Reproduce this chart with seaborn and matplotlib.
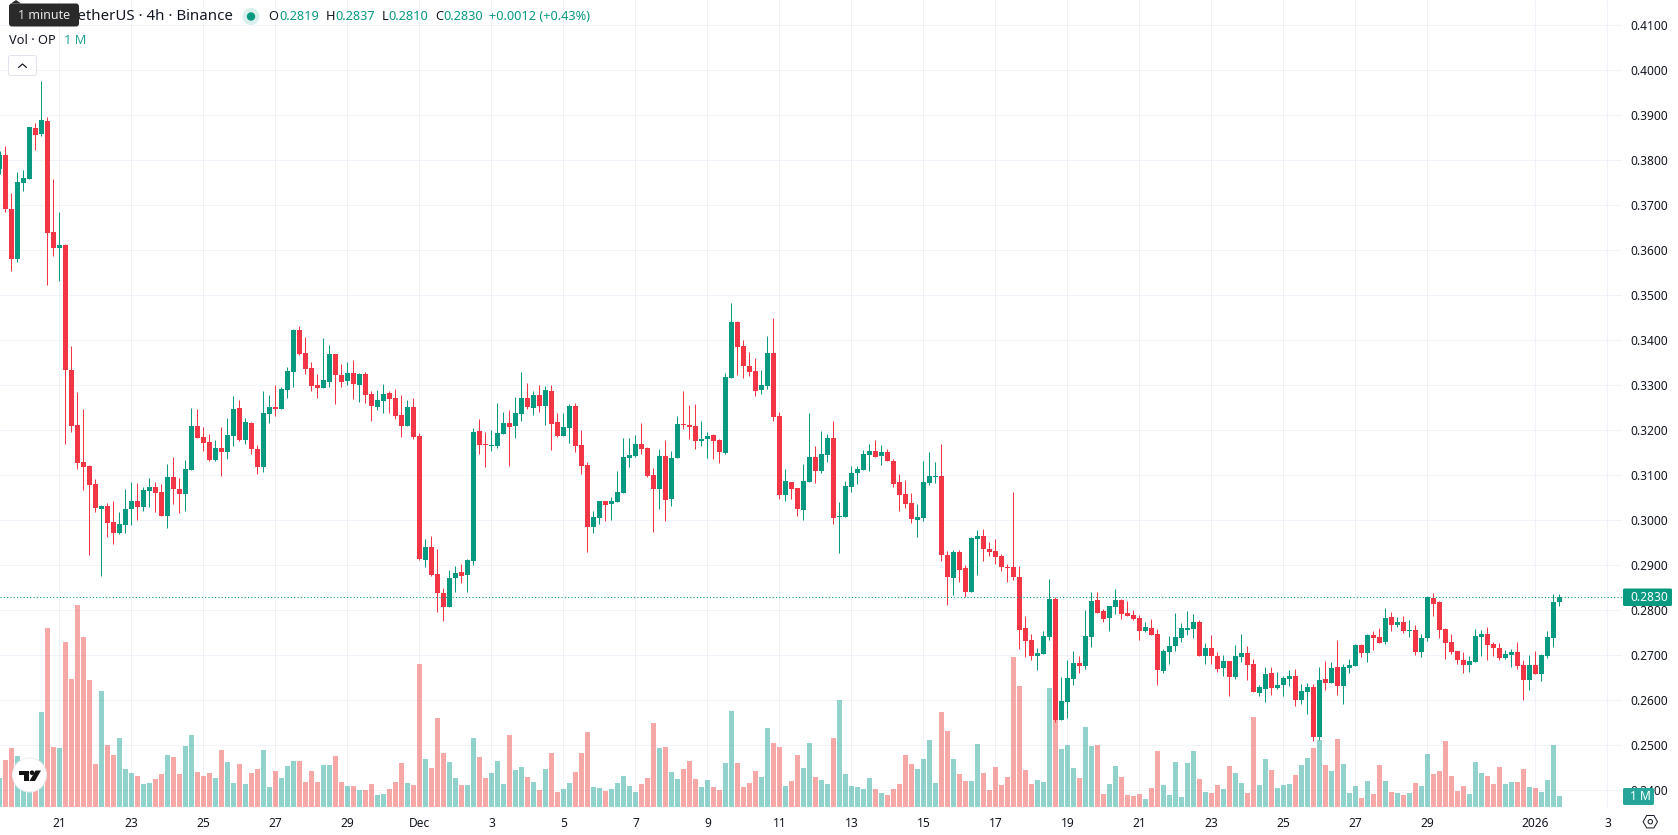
import numpy as np
import pandas as pd
import seaborn as sns
import matplotlib
matplotlib.use("Agg")
import matplotlib.pyplot as plt
from matplotlib.patches import Circle, FancyBboxPatch, Polygon

# OP/USDT 4h candles, one candle per entry, starting 19 Nov
opens = [
    .3781, .3812, .3692, .3581, .3750, .3759, .3872, .3859, .3887, .3641,
    .3605, .3612, .3334, .3212, .3130, .3121, .3081, .3025, .3032, .2996,
    .2972, .2990, .3025, .3043, .3030, .3065, .3074, .3063, .3010, .3096,
    .3070, .3059, .3112, .3210, .3185, .3174, .3134, .3161, .3152, .3187,
    .3250, .3179, .3216, .3159, .3119, .3236, .3252, .3247, .3290, .3330,
    .3423, .3372, .3339, .3301, .3294, .3307, .3370, .3323, .3310, .3327,
    .3301, .3325, .3281, .3252, .3265, .3283, .3272, .3234, .3210, .3252,
    .3187, .2912, .2941, .2881, .2839, .2807, .2872, .2885, .2879, .2910,
    .3199, .3170, .3165, .3165, .3192, .3216, .3210, .3236, .3272, .3250,
    .3279, .3254, .3287, .3219, .3187, .3205, .3254, .3167, .3123, .2985,
    .3005, .3043, .3036, .3041, .3061, .3139, .3143, .3170, .3161, .3101,
    .3070, .3143, .3047, .3139, .3214, .3212, .3210, .3176, .3181, .3190,
    .3179, .3150, .3316, .3441, .3387, .3343, .3332, .3290, .3299, .3372,
    .3232, .3056, .3085, .3072, .3023, .3085, .3141, .3110, .3145, .3183,
    .3007, .3007, .3074, .3105, .3112, .3145, .3154, .3143, .3152, .3132,
    .3085, .3059, .3039, .3001, .3005, .3083, .3096, .3099, .2923, .2872,
    .2930, .2894, .2841, .2959, .2965, .2936, .2932, .2921, .2896, .2896,
    .2874, .2761, .2734, .2699, .2703, .2741, .2825, .2556, .2596, .2647,
    .2683, .2677, .2741, .2823, .2799, .2783, .2808, .2823, .2794, .2790,
    .2783, .2754, .2761, .2747, .2665, .2707, .2721, .2739, .2757, .2759,
    .2774, .2699, .2717, .2699, .2672, .2687, .2652, .2696, .2705, .2681,
    .2616, .2625, .2661, .2627, .2634, .2647, .2654, .2601, .2619, .2630,
    .2519, .2647, .2639, .2674, .2632, .2672, .2676, .2723, .2705, .2745,
    .2741, .2730, .2785, .2767, .2774, .2754, .2756, .2707, .2739, .2827,
    .2819, .2759, .2730, .2710, .2690, .2679, .2685, .2741, .2747, .2725,
    .2716, .2694, .2701, .2707, .2679, .2645, .2679, .2659, .2699, .2739, .2819,
]
highs = [
    .3820, .3832, .3727, .3774, .3779, .3875, .3883, .3976, .3896, .3759,
    .3685, .3614, .3387, .3285, .3247, .3122, .3092, .3034, .3039, .3043,
    .3019, .3070, .3085, .3083, .3074, .3094, .3085, .3081, .3125, .3141,
    .3094, .3134, .3250, .3247, .3207, .3192, .3179, .3207, .3227, .3276,
    .3267, .3227, .3219, .3167, .3287, .3279, .3301, .3296, .3341, .3425,
    .3432, .3407, .3352, .3325, .3405, .3390, .3370, .3347, .3352, .3356,
    .3327, .3330, .3287, .3290, .3303, .3287, .3292, .3279, .3267, .3272,
    .3194, .2959, .2965, .2936, .2850, .2890, .2899, .2903, .2914, .3205,
    .3225, .3196, .3201, .3261, .3241, .3245, .3274, .3330, .3305, .3287,
    .3301, .3299, .3301, .3239, .3239, .3259, .3261, .3201, .3130, .3021,
    .3043, .3043, .3052, .3110, .3183, .3183, .3190, .3216, .3163, .3116,
    .3159, .3179, .3154, .3232, .3287, .3256, .3258, .3221, .3196, .3192,
    .3181, .3327, .3483, .3443, .3401, .3374, .3361, .3334, .3410, .3450,
    .3241, .3114, .3085, .3072, .3125, .3239, .3165, .3199, .3192, .3221,
    .3041, .3087, .3121, .3121, .3156, .3170, .3179, .3167, .3159, .3136,
    .3103, .3090, .3061, .3036, .3132, .3152, .3130, .3170, .2932, .2934,
    .2934, .2901, .2963, .2979, .2981, .2952, .2959, .2925, .2903, .3063,
    .2899, .2787, .2747, .2716, .2754, .2870, .2830, .2652, .2690, .2710,
    .2699, .2801, .2841, .2841, .2803, .2810, .2847, .2825, .2821, .2801,
    .2790, .2774, .2781, .2759, .2714, .2743, .2794, .2772, .2799, .2792,
    .2779, .2728, .2745, .2708, .2701, .2687, .2723, .2747, .2721, .2692,
    .2634, .2674, .2674, .2663, .2654, .2667, .2670, .2636, .2639, .2636,
    .2674, .2687, .2685, .2734, .2681, .2692, .2725, .2725, .2747, .2754,
    .2761, .2805, .2796, .2785, .2787, .2779, .2767, .2747, .2832, .2839,
    .2821, .2761, .2747, .2710, .2707, .2699, .2759, .2756, .2763, .2730,
    .2727, .2712, .2714, .2730, .2690, .2701, .2710, .2703, .2754, .2836, .2837,
]
lows = [
    .3770, .3686, .3554, .3574, .3732, .3758, .3823, .3854, .3523, .3587,
    .3532, .3170, .3196, .3114, .3067, .2923, .3019, .2876, .2963, .2947,
    .2970, .2972, .2990, .3001, .3021, .3030, .3019, .3010, .2983, .3036,
    .3016, .3021, .3112, .3183, .3154, .3132, .3132, .3099, .3136, .3165,
    .3176, .3170, .3147, .3103, .3107, .3216, .3232, .3247, .3272, .3296,
    .3367, .3325, .3287, .3272, .3294, .3296, .3259, .3296, .3301, .3270,
    .3263, .3261, .3221, .3245, .3239, .3239, .3225, .3185, .3210, .3181,
    .2912, .2896, .2876, .2796, .2776, .2807, .2841, .2861, .2841, .2901,
    .3147, .3119, .3154, .3161, .3192, .3121, .3183, .3221, .3247, .3234,
    .3241, .3212, .3156, .3185, .3187, .3172, .3152, .3103, .2930, .2972,
    .2992, .2999, .3001, .3041, .3061, .3119, .3141, .3147, .3096, .2974,
    .3025, .2999, .3032, .3139, .3203, .3181, .3159, .3165, .3139, .3136,
    .3127, .3147, .3316, .3323, .3316, .3321, .3276, .3281, .3292, .3221,
    .3047, .3043, .3047, .3010, .3001, .3085, .3083, .3105, .3130, .2992,
    .2927, .3007, .3063, .3081, .3112, .3110, .3141, .3123, .3132, .3074,
    .3021, .3027, .2994, .2963, .2999, .3079, .3083, .2910, .2812, .2834,
    .2863, .2830, .2841, .2879, .2910, .2921, .2903, .2887, .2863, .2867,
    .2714, .2696, .2690, .2667, .2703, .2734, .2552, .2556, .2561, .2634,
    .2661, .2670, .2719, .2794, .2774, .2754, .2792, .2781, .2787, .2779,
    .2734, .2752, .2745, .2634, .2661, .2681, .2710, .2730, .2745, .2739,
    .2699, .2681, .2681, .2663, .2654, .2610, .2647, .2685, .2645, .2619,
    .2610, .2596, .2612, .2625, .2610, .2632, .2587, .2592, .2570, .2510,
    .2512, .2623, .2639, .2612, .2592, .2661, .2676, .2696, .2685, .2712,
    .2727, .2725, .2754, .2763, .2750, .2741, .2701, .2696, .2732, .2787,
    .2739, .2692, .2703, .2681, .2661, .2663, .2685, .2699, .2690, .2699,
    .2690, .2692, .2674, .2670, .2601, .2623, .2659, .2643, .2694, .2719, .2810,
]
closes = [
    .3812, .3692, .3581, .3752, .3761, .3874, .3856, .3890, .3639, .3605,
    .3612, .3334, .3210, .3127, .3119, .3079, .3027, .3032, .2994, .2972,
    .2992, .3025, .3043, .3030, .3067, .3074, .3061, .3010, .3096, .3070,
    .3059, .3114, .3210, .3183, .3172, .3134, .3161, .3152, .3190, .3247,
    .3179, .3219, .3159, .3119, .3239, .3252, .3247, .3292, .3332, .3423,
    .3370, .3336, .3299, .3294, .3312, .3370, .3323, .3307, .3327, .3303,
    .3325, .3279, .3254, .3267, .3281, .3270, .3232, .3210, .3252, .3185,
    .2914, .2941, .2879, .2839, .2807, .2872, .2883, .2876, .2912, .3196,
    .3167, .3167, .3167, .3194, .3216, .3207, .3239, .3272, .3252, .3279,
    .3254, .3290, .3214, .3187, .3207, .3254, .3165, .3121, .2985, .3007,
    .3043, .3034, .3043, .3063, .3141, .3145, .3170, .3159, .3099, .3070,
    .3143, .3045, .3139, .3214, .3212, .3207, .3176, .3181, .3187, .3176,
    .3152, .3319, .3441, .3385, .3343, .3330, .3287, .3301, .3372, .3230,
    .3056, .3087, .3070, .3025, .3087, .3141, .3110, .3147, .3183, .3005,
    .3010, .3076, .3105, .3114, .3147, .3154, .3141, .3152, .3132, .3081,
    .3056, .3036, .3003, .3007, .3085, .3099, .3099, .2923, .2874, .2930,
    .2890, .2841, .2961, .2965, .2936, .2930, .2919, .2896, .2894, .2874,
    .2756, .2732, .2699, .2705, .2743, .2825, .2556, .2599, .2650, .2683,
    .2677, .2743, .2821, .2794, .2781, .2810, .2823, .2792, .2787, .2781,
    .2754, .2763, .2745, .2667, .2710, .2721, .2741, .2761, .2761, .2774,
    .2699, .2717, .2699, .2670, .2687, .2652, .2699, .2705, .2679, .2619,
    .2630, .2659, .2627, .2634, .2650, .2654, .2601, .2621, .2630, .2519,
    .2645, .2639, .2672, .2632, .2674, .2679, .2723, .2705, .2745, .2739,
    .2727, .2783, .2767, .2774, .2754, .2756, .2707, .2739, .2830, .2814,
    .2756, .2727, .2707, .2690, .2679, .2687, .2743, .2747, .2723, .2716,
    .2694, .2703, .2707, .2676, .2645, .2679, .2659, .2701, .2741, .2819, .2830,
]
# Traded volume per candle, in hundreds of thousands of OP
volumes = [
    29, 47, 59, 51, 32, 30, 22, 95, 179, 60,
    59, 165, 128, 202, 170, 127, 43, 116, 62, 52,
    69, 38, 34, 31, 23, 24, 28, 33, 52, 50,
    33, 61, 72, 35, 31, 34, 29, 57, 45, 24,
    43, 23, 34, 38, 57, 20, 36, 29, 41, 46,
    46, 25, 36, 25, 42, 42, 51, 25, 21, 21,
    17, 17, 23, 12, 13, 18, 25, 44, 24, 22,
    143, 48, 39, 89, 54, 45, 29, 22, 22, 69,
    50, 29, 34, 46, 23, 72, 37, 40, 30, 25,
    17, 38, 54, 15, 18, 24, 35, 54, 75, 20,
    19, 16, 18, 24, 31, 21, 15, 23, 29, 84,
    59, 60, 35, 28, 38, 46, 28, 20, 27, 20,
    17, 44, 96, 44, 20, 24, 36, 30, 79, 64,
    60, 21, 26, 52, 39, 64, 30, 27, 23, 69,
    107, 33, 21, 20, 18, 29, 18, 14, 12, 18,
    23, 52, 43, 38, 48, 67, 24, 95, 76, 48,
    33, 26, 26, 63, 34, 17, 40, 22, 30, 150,
    121, 37, 23, 27, 25, 119, 90, 58, 62, 39,
    29, 80, 61, 62, 13, 23, 41, 30, 12, 11,
    13, 8, 19, 56, 22, 12, 45, 10, 44, 56,
    28, 15, 14, 22, 18, 41, 34, 24, 14, 90,
    22, 48, 37, 19, 22, 23, 32, 42, 49, 59,
    67, 42, 36, 68, 43, 14, 21, 9, 26, 13,
    42, 26, 15, 14, 12, 14, 24, 21, 53, 33,
    36, 66, 31, 16, 21, 13, 45, 34, 31, 23,
    40, 23, 25, 25, 38, 20, 19, 15, 27, 62, 11,
]

day_tick_bars = [10, 22, 34, 46, 58, 70, 82, 94, 106, 118, 130, 142, 154,
                 166, 178, 190, 202, 214, 226, 238, 256, 268]
day_tick_labels = ["21", "23", "25", "27", "29", "Dec", "3", "5", "7", "9", "11",
                   "13", "15", "17", "19", "21", "23", "25", "27", "29", "2026", "3"]
price_ticks = [0.24, 0.25, 0.26, 0.27, 0.28, 0.29, 0.30, 0.31, 0.32, 0.33,
               0.34, 0.35, 0.36, 0.37, 0.38, 0.39, 0.40, 0.41]
last_price = 0.2830

UP = "#089981"
DOWN = "#F23645"
VOL_UP = "#26A69A"
VOL_DOWN = "#EF5350"
GRID = "#F0F3FA"
INK = "#131722"
FONT = "Noto Sans"

W, H = 1678, 835
PLOT_R, PLOT_B = 1622, 807
px = 72 / 100  # points per pixel at the saved resolution

sns.set_theme(style="white")
plt.rcParams["font.family"] = [FONT, "DejaVu Sans"]

frame = pd.DataFrame({"open": opens, "high": highs, "low": lows,
                      "close": closes, "volume": volumes})
frame["bar"] = np.arange(len(frame))
frame["direction"] = np.where(frame["close"] >= frame["open"], "up", "down")

fig = plt.figure(figsize=(W / 100, H / 100), dpi=100, facecolor="white")
rect = [0, 1 - PLOT_B / H, PLOT_R / W, PLOT_B / H]
x_lim = (0.5 / 6, (PLOT_R + 0.5) / 6)
y_lim = (0.29 - (PLOT_B - 565.3) / 4500, 0.29 + 565.3 / 4500)

# Bottom layer carries the price scale and the grid; two twins stack above it
ax = fig.add_axes(rect, facecolor="white")
ax_vol = ax.twinx()
ax_c = ax.twinx()

# Middle layer: volume histogram
sns.barplot(data=frame, x="bar", y="volume", hue="direction",
            hue_order=["up", "down"], palette={"up": VOL_UP, "down": VOL_DOWN},
            native_scale=True, dodge=False, width=5 / 6, saturation=1, alpha=0.5,
            linewidth=0, legend=False, ax=ax_vol)
ax_vol.set_ylim(0, PLOT_B)

# Top layer: candles and last-price line
ax_c.set_ylim(*y_lim)
colors = np.where(frame["direction"] == "up", UP, DOWN)
ax_c.vlines(frame["bar"], frame["low"], frame["high"], colors=colors, linewidth=1 * px)
body_low = frame[["open", "close"]].min(axis=1)
body_height = (frame["close"] - frame["open"]).abs().clip(lower=1 / 4500)
ax_c.bar(frame["bar"], body_height, bottom=body_low, width=5 / 6, color=colors, linewidth=0)
ax_c.axhline(last_price, color=UP, linewidth=1.1 * px, linestyle=(0, (1, 2)))

for a in (ax_vol, ax_c):
    a.patch.set_visible(False)
    a.set_xlabel("")
    a.set_ylabel("")
    a.set_yticks([])
    a.tick_params(axis="x", which="both", length=0, labelbottom=False, labeltop=False)
    for spine in a.spines.values():
        spine.set_visible(False)

# Scales and grid go last because the twins reset them
ax.set_xlim(*x_lim)
ax.set_ylim(*y_lim)
ax.yaxis.tick_right()
ax.set_yticks(price_ticks)
ax.set_yticklabels([f"{t:.4f}" for t in price_ticks], fontsize=12 * px, color=INK)
ax.set_xticks(day_tick_bars)
ax.set_xticklabels(day_tick_labels, fontsize=12 * px, color=INK)
ax.get_xticklabels()[day_tick_labels.index("2026")].set_fontweight("bold")
ax.tick_params(axis="y", length=0, pad=8 * px)
ax.tick_params(axis="x", length=0, pad=10 * px, labelbottom=True)
ax.grid(True, color=GRID, linewidth=1 * px)
ax.set_axisbelow(True)
ax.set_xlabel("")
for spine in ax.spines.values():
    spine.set_visible(False)

# Full-canvas layer in screen pixels for the header and scale badges
ui = fig.add_axes([0, 0, 1, 1], facecolor="none")
ui.set_xlim(0, W)
ui.set_ylim(H, 0)
ui.axis("off")


def label(x, y, s, color=INK, size=12, ha="left", **kw):
    return ui.text(x, y, s, color=color, fontsize=size * px, ha=ha, va="center", **kw)


label(233, 16.5, "OP / TetherUS · 4h · Binance", size=15, ha="right")

# Tooltip with its small pointer
ui.add_patch(Polygon([[11, 3.5], [16, 0], [21, 3.5]], closed=True, color="#2A2A2A", lw=0, zorder=4))
ui.add_patch(FancyBboxPatch((10, 4.5), 68, 21, boxstyle="round,pad=0,rounding_size=2",
                            facecolor="#2A2A2A", edgecolor="#2A2A2A", lw=2 * px, zorder=4))
label(18, 15.5, "1 minute", color="#E8E8E8", size=12.5, zorder=5)

# Live status dot
ui.add_patch(Circle((251, 16.5), 8.5, color="#D9F0EC", lw=0))
ui.add_patch(Circle((251, 16.5), 4.2, color=UP, lw=0))

for x_key, x_val, key, val in [(268, 279, "O", "0.2819"), (325.5, 335, "H", "0.2837"),
                               (381.5, 388.5, "L", "0.2810"), (435, 443.5, "C", "0.2830")]:
    label(x_key, 16.5, key, size=12.8)
    label(x_val, 16.5, val, color=UP, size=12.8)
label(489, 16.5, "+0.0012 (+0.43%)", color=UP, size=12.8)

label(9, 40.5, "Vol · OP", size=12.8)
label(64, 40.5, "1 M", color=VOL_UP, size=12.8)

# Collapse button
ui.add_patch(FancyBboxPatch((8.5, 55.5), 28, 20, boxstyle="round,pad=0,rounding_size=2.5",
                            facecolor="white", edgecolor="#E0E3EB", lw=1 * px))
ui.plot([18.5, 22.5, 26.5], [67.5, 64, 67.5], color=INK, lw=1.2 * px, solid_capstyle="round")

# Scale badges
ui.add_patch(FancyBboxPatch((1623, 588.5), 49, 17.5, boxstyle="round,pad=0,rounding_size=1.5",
                            facecolor=UP, edgecolor="none"))
label(1630, 597.2, "0.2830", color="white")
ui.add_patch(FancyBboxPatch((1623, 788), 31, 17, boxstyle="round,pad=0,rounding_size=1.5",
                            facecolor=VOL_UP, edgecolor="none"))
label(1630, 796.5, "1 M", color="white")

# Settings glyph beside the time scale
ang = np.deg2rad(np.arange(0, 360, 60))
ui.add_patch(Polygon(np.c_[1650.3 + 7.2 * np.cos(ang), 821.7 + 7.2 * np.sin(ang)], closed=True,
                     fill=False, edgecolor=INK, lw=1 * px))
ui.add_patch(Circle((1650.3, 821.7), 2.2, fill=False, edgecolor=INK, lw=1 * px))

# Attribution badge
ui.add_patch(Circle((29.5, 775), 17, facecolor="white", edgecolor="#EDEDED", lw=1 * px))
ui.add_patch(Polygon([[19, 770.5], [28.5, 770.5], [28.5, 781], [23.5, 781], [23.5, 775], [19, 775]],
                     closed=True, color="#131313", lw=0))
ui.add_patch(Circle((32, 772.7), 2.3, color="#131313", lw=0))
ui.add_patch(Polygon([[35.5, 770.5], [41, 770.5], [35, 781], [29.5, 781]], closed=True,
                     color="#131313", lw=0))

fig.savefig("out.png", dpi=100, facecolor="white")
